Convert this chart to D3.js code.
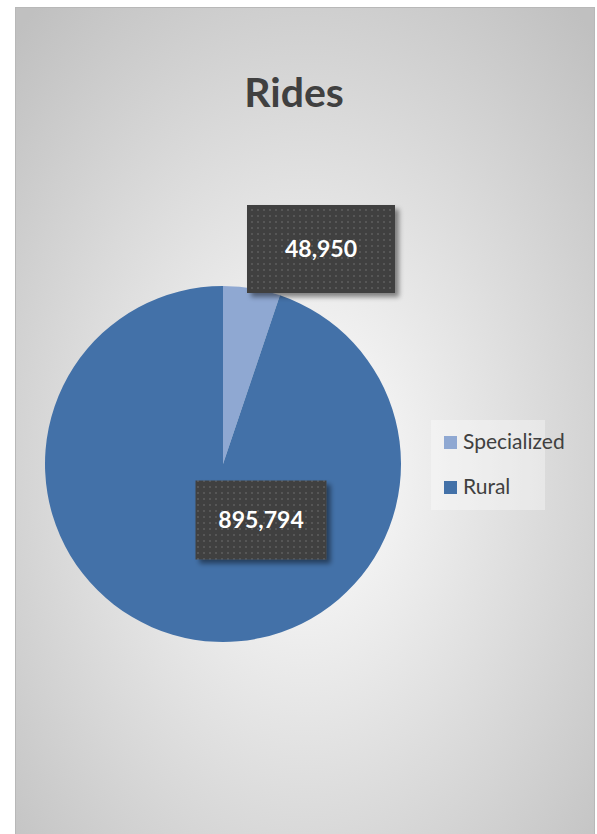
<!DOCTYPE html>
<html>
<head>
<meta charset="utf-8">
<script src="https://cdn.jsdelivr.net/npm/d3@7"></script>
<style>
  html, body { margin: 0; padding: 0; background: #ffffff; }
  svg { display: block; }
</style>
</head>
<body>
<div id="chart"></div>
<script>
// ---- data ----
const title = "Rides";
const categories = ["Specialized", "Rural"];
const values = [48950, 895794];
const colors = ["#8fa8d2", "#4371a8"];

// ---- layout ----
const W = 597, H = 834;
const svg = d3.select("#chart").append("svg").attr("width", W).attr("height", H)
  .style("font-family", "Lato, 'Open Sans', sans-serif");

const defs = svg.append("defs");
const grad = defs.append("radialGradient").attr("id", "bg")
  .attr("cx", 0.5).attr("cy", 0.55).attr("r", 0.72).attr("fx", 0.5).attr("fy", 0.55);
grad.append("stop").attr("offset", "0%").attr("stop-color", "#ffffff");
grad.append("stop").attr("offset", "100%").attr("stop-color", "#c0c0c0");

const pat = defs.append("pattern").attr("id", "dots")
  .attr("patternUnits", "userSpaceOnUse").attr("width", 6).attr("height", 6);
pat.append("rect").attr("width", 6).attr("height", 6).attr("fill", "#404040");
pat.append("rect").attr("x", 2).attr("y", 2).attr("width", 2).attr("height", 2).attr("fill", "#565656");

const shadow = defs.append("filter").attr("id", "shadow")
  .attr("x", "-20%").attr("y", "-20%").attr("width", "150%").attr("height", "150%");
shadow.append("feDropShadow").attr("dx", 4).attr("dy", 4).attr("stdDeviation", 2.5)
  .attr("flood-color", "#000").attr("flood-opacity", 0.45);

// chart area
svg.append("rect").attr("x", 15.5).attr("y", 7.5).attr("width", 579).attr("height", 840)
  .attr("fill", "url(#bg)").attr("stroke", "#b8b8b8").attr("stroke-width", 1);

// title
svg.append("text").attr("x", 294).attr("y", 107).attr("text-anchor", "middle")
  .attr("font-size", 41).attr("font-weight", 700).attr("fill", "#404040").text(title);

// pie
const cx = 223, cy = 464, R = 178;
const pie = d3.pie().sort(null).value(d => d)(values);
const arc = d3.arc().innerRadius(0).outerRadius(R);
const g = svg.append("g").attr("transform", `translate(${cx},${cy})`);
g.selectAll("path").data(pie).join("path")
  .attr("d", arc).attr("fill", (d, i) => colors[i]);

// data labels (callout boxes)
const fmt = d3.format(",");
const labelLayout = [
  { dx: 98, dy: -215, w: 148, h: 88 },
  { dx: 38, dy: 56, w: 131, h: 79 }
];
const lbl = g.selectAll("g.lbl").data(pie).join("g").attr("class", "lbl")
  .attr("transform", (d, i) => `translate(${labelLayout[i].dx},${labelLayout[i].dy})`);
lbl.append("rect")
  .attr("x", (d, i) => -labelLayout[i].w / 2).attr("y", (d, i) => -labelLayout[i].h / 2)
  .attr("width", (d, i) => labelLayout[i].w).attr("height", (d, i) => labelLayout[i].h)
  .attr("fill", "url(#dots)").attr("filter", "url(#shadow)");
lbl.append("text").attr("text-anchor", "middle").attr("dy", "0.36em")
  .attr("font-size", 23).attr("font-weight", 700).attr("fill", "#ffffff")
  .text(d => fmt(d.value));

// legend
const leg = svg.append("g");
leg.append("rect").attr("x", 431).attr("y", 420).attr("width", 114).attr("height", 90)
  .attr("fill", "#ffffff").attr("fill-opacity", 0.35);
const items = leg.selectAll("g.item").data(categories).join("g").attr("class", "item")
  .attr("transform", (d, i) => `translate(444,${436 + i * 45})`);
items.append("rect").attr("width", 13).attr("height", 13).attr("fill", (d, i) => colors[i]);
items.append("text").attr("x", 19).attr("y", 13).attr("font-size", 21).attr("fill", "#404040")
  .text(d => d);
</script>
</body>
</html>
